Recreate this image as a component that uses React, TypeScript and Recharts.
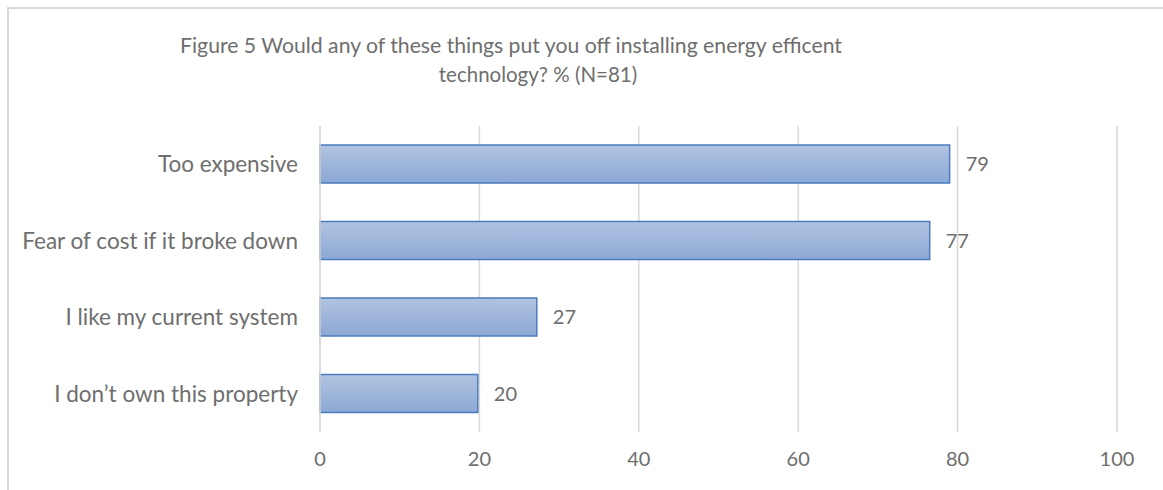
import React from "react";
import { BarChart, Bar, XAxis, YAxis, CartesianGrid, LabelList } from "recharts";

const categories = [
  "Too expensive",
  "Fear of cost if it broke down",
  "I like my current system",
  "I don\u2019t own this property",
];
const percentages = [79.0, 76.5, 27.2, 19.8];
const xTicks = [0, 20, 40, 60, 80, 100];
const titleLines = [
  "Figure 5 Would any of these things put you off installing energy efficent",
  "technology? % (N=81)",
];

const data = categories.map((c, i) => ({ name: c, value: percentages[i] }));

const FONT = "Lato, 'Open Sans', sans-serif";
const TEXT = "#6e6e6e";

const GradBar = (props: any) => {
  const { x, y, width, height, index } = props;
  const id = `barGrad${index}`;
  return (
    <g>
      <defs>
        <linearGradient id={id} x1="0" y1="0" x2="0" y2="1">
          <stop offset="0%" stopColor="#b1c3e0" />
          <stop offset="100%" stopColor="#8ca8d5" />
        </linearGradient>
      </defs>
      <rect x={x} y={y} width={width} height={height} fill={`url(#${id})`} stroke="#4a7cbe" strokeWidth={1.5} />
    </g>
  );
};

export default function App() {
  return (
    <div style={{ position: "absolute", left: 0, top: 0, width: 1163, height: 490, overflow: "hidden", background: "#fff" }}>
      <div
        style={{
          position: "absolute",
          left: 7,
          top: 7,
          width: 1156,
          height: 483,
          borderTop: "2px solid #d9d9d9",
          borderLeft: "2px solid #d9d9d9",
          boxSizing: "border-box",
        }}
      />
      <div style={{ position: "absolute", left: 0, top: 31, width: 1022, textAlign: "center", fontFamily: FONT, fontSize: 21.2, color: TEXT, whiteSpace: "nowrap", lineHeight: "28px" }}>
        {titleLines[0]}
      </div>
      <div style={{ position: "absolute", left: 0, top: 60, width: 1076, textAlign: "center", fontFamily: FONT, fontSize: 20.5, color: TEXT, whiteSpace: "nowrap", lineHeight: "28px" }}>
        {titleLines[1]}
      </div>
      <div style={{ position: "absolute", left: 0, top: 0 }}>
        <BarChart
          width={1163}
          height={490}
          data={data}
          layout="vertical"
          margin={{ top: 126, right: 46, bottom: 0, left: 0 }}
        >
          <CartesianGrid horizontal={false} vertical={true} stroke="#d9d9d9" strokeWidth={1.5} />
          <XAxis
            type="number"
            dataKey="value"
            domain={[0, 100]}
            ticks={xTicks}
            axisLine={false}
            tickLine={false}
            height={58}
            tickMargin={14}
            tick={{ fill: TEXT, fontSize: 20, fontFamily: FONT }}
            interval={0}
          />
          <YAxis
            type="category"
            dataKey="name"
            width={320}
            axisLine={{ stroke: "#d9d9d9", strokeWidth: 1.5 }}
            tickLine={false}
            tickMargin={16}
            tick={{ fill: TEXT, fontSize: 22.5, fontFamily: FONT }}
            interval={0}
          />
          <Bar dataKey="value" barSize={38} fill="#9db4da" shape={<GradBar />} isAnimationActive={false}>
            <LabelList
              dataKey="value"
              position="right"
              offset={16}
              formatter={(v: any) => Math.round(Number(v))}
              fill={TEXT}
              fontSize={20}
              fontFamily={FONT}
            />
          </Bar>
        </BarChart>
      </div>
    </div>
  );
}
